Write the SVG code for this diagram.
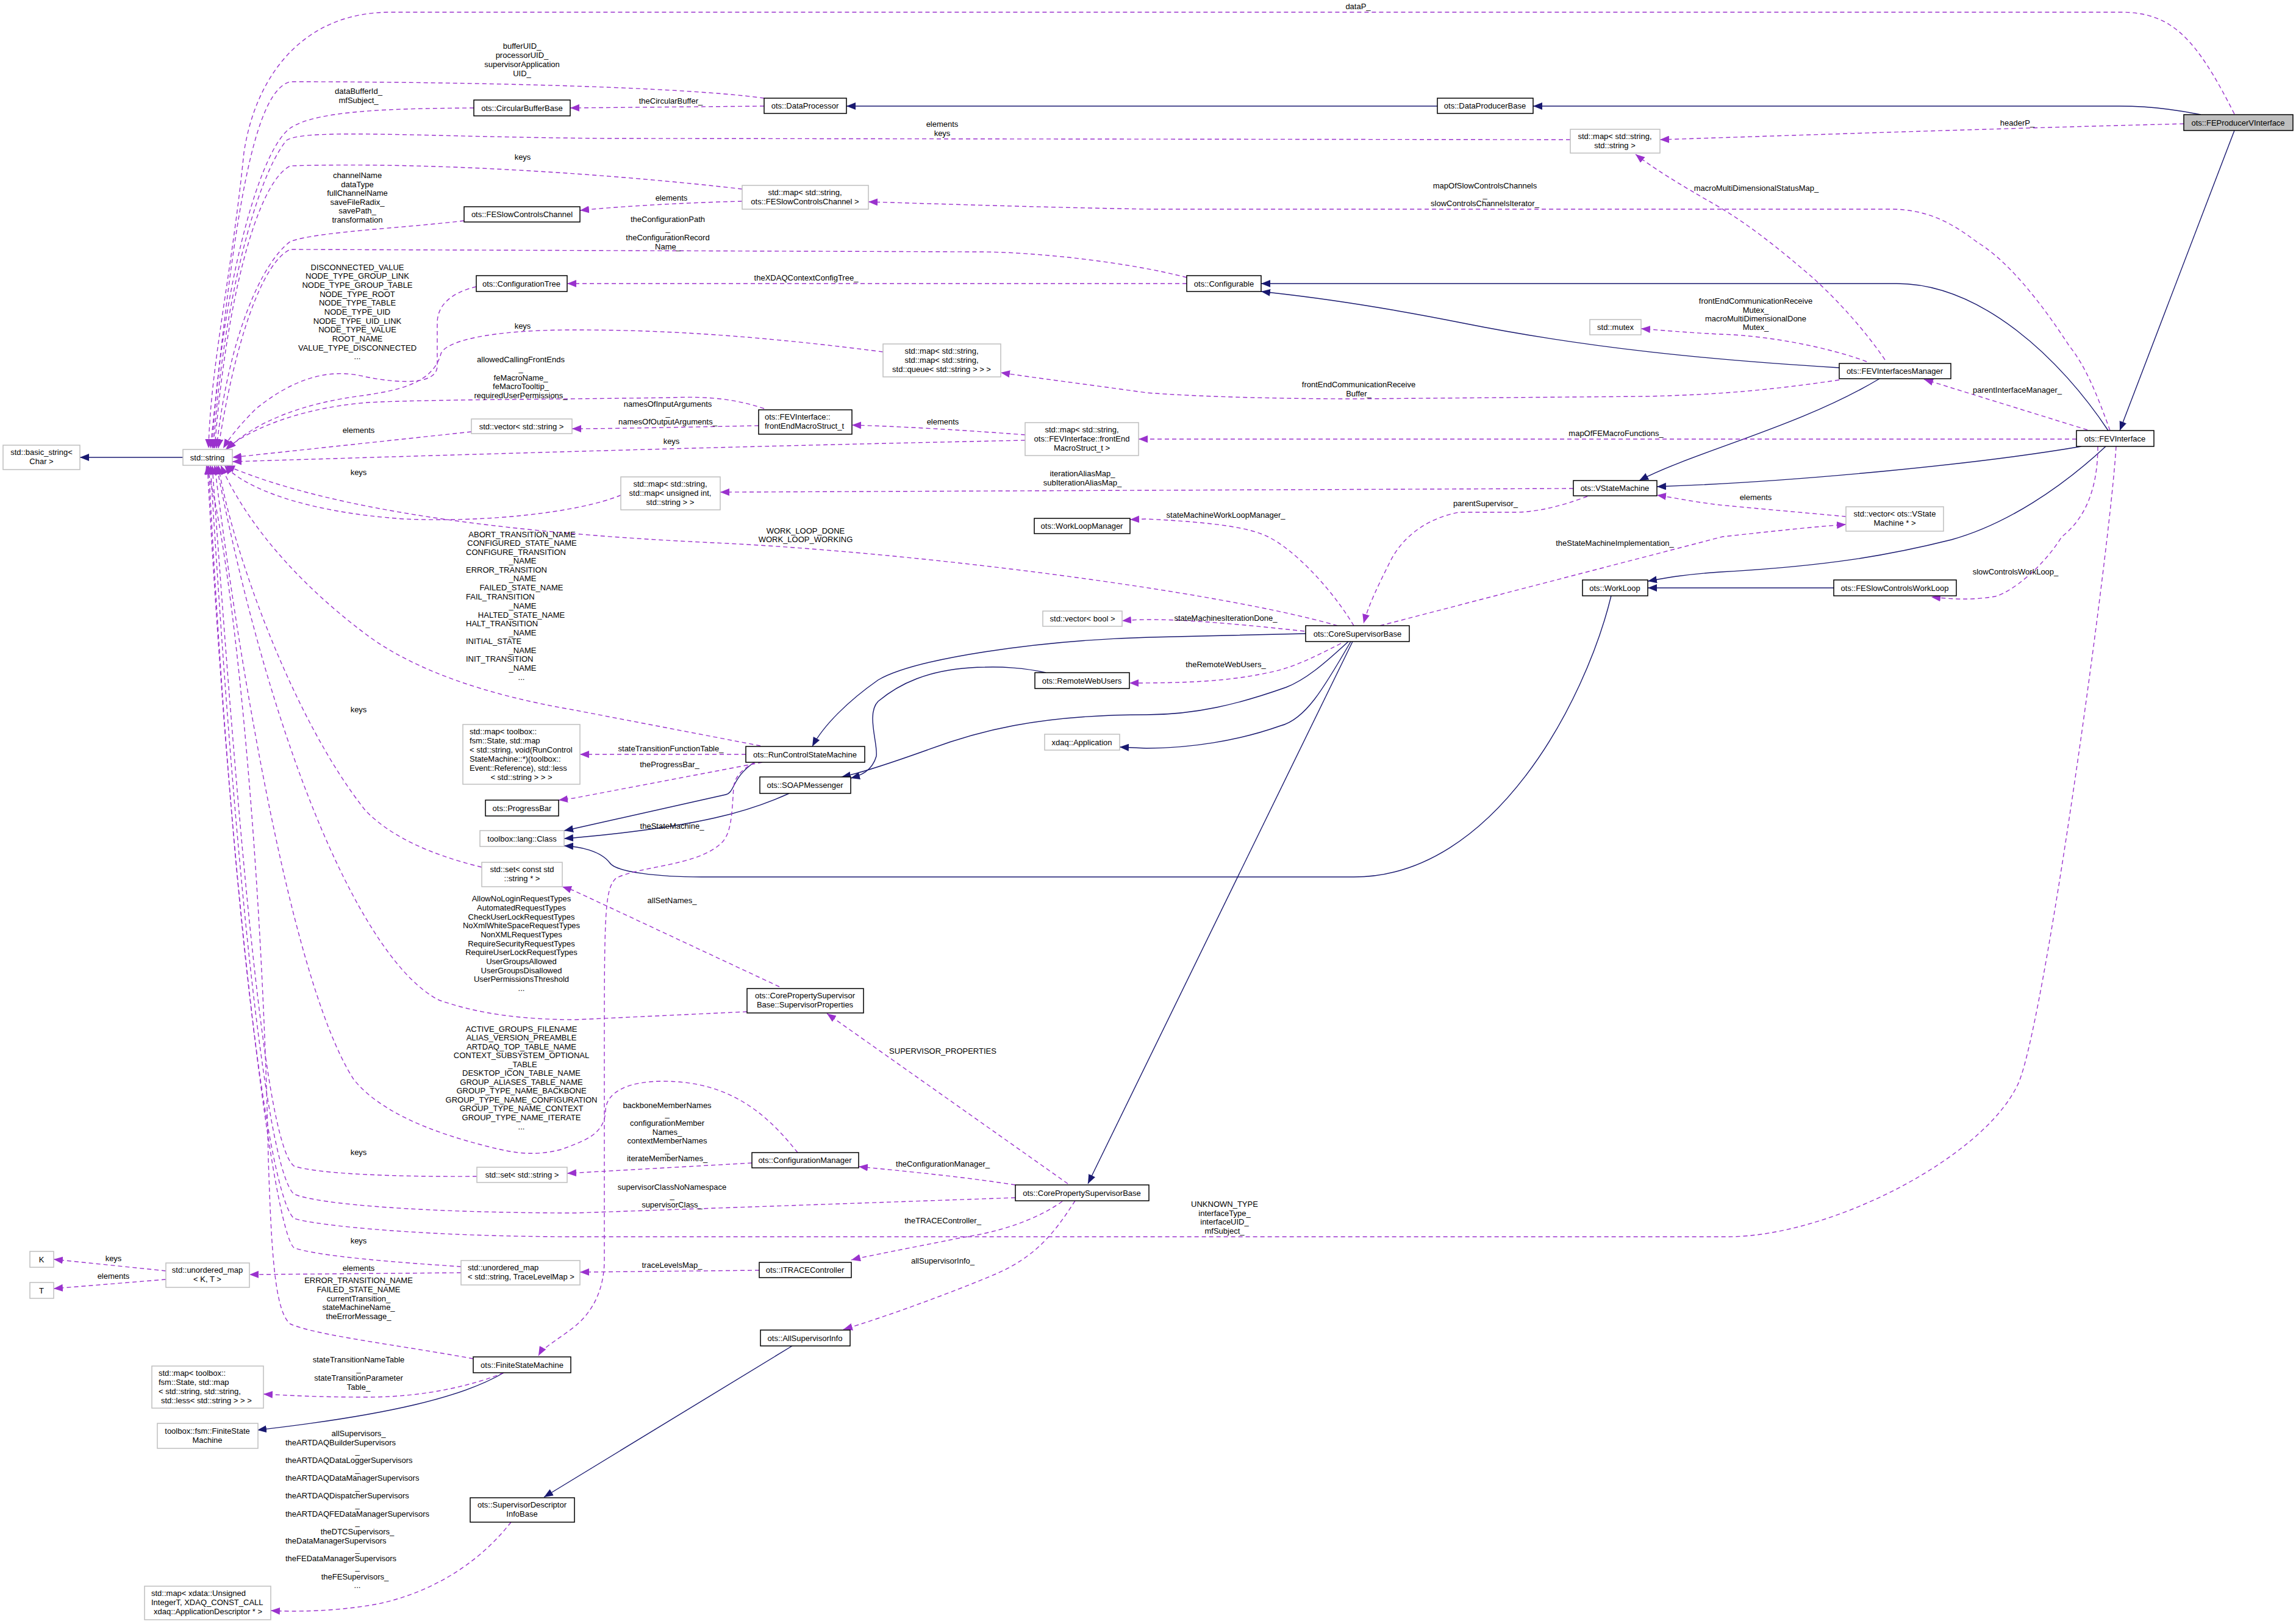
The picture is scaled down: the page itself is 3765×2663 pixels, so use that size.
<svg xmlns="http://www.w3.org/2000/svg" width="3765" height="2663" viewBox="0 0 3765 2663">
<style>
text{font-family:"Liberation Sans",Arial,sans-serif;font-size:13px;fill:#000}
.m{text-anchor:middle}
.b{fill:#fff;stroke:#000;stroke-width:1.5}
.g{fill:#fff;stroke:#bfbfbf;stroke-width:1.5}
.d{fill:none;stroke:#9a32cd;stroke-width:1.4;stroke-dasharray:7,5;marker-end:url(#ap)}
.s{fill:none;stroke:#191970;stroke-width:1.4;marker-end:url(#an)}
</style>
<defs>
<marker id="ap" markerUnits="userSpaceOnUse" markerWidth="16" markerHeight="12" refX="15" refY="6" orient="auto"><path d="M0,0 L15,6 L0,12 z" fill="#9a32cd"/></marker>
<marker id="an" markerUnits="userSpaceOnUse" markerWidth="16" markerHeight="12" refX="15" refY="6" orient="auto"><path d="M0,0 L15,6 L0,12 z" fill="#191970"/></marker>
</defs>
<rect width="3765" height="2663" fill="#fff"/>
<g id="edges">
<path class="s" d="M300,750 L131,750"/>
<path class="s" d="M2357,174 L1388,174"/>
<path class="s" d="M3609,188 C3560,178 3520,174 3475,174 L2514,174"/>
<path class="s" d="M3664,214 L3476,706"/>
<path class="s" d="M3457,706 C3380,590 3250,465 3110,465 L2068,465"/>
<path class="s" d="M3016,603 C2800,590 2600,570 2400,530 C2200,490 2100,482 2068,478"/>
<path class="s" d="M3082,621 C2950,700 2780,740 2688,788"/>
<path class="s" d="M3413,732 C3250,760 2950,790 2717,798"/>
<path class="s" d="M3453,732 C3380,800 3290,860 3200,885 C3100,910 3000,928 2820,938 C2760,942 2730,948 2702,953"/>
<path class="s" d="M3007,964 L2702,964"/>
<path class="s" d="M2642,977 C2600,1150 2450,1438 2220,1438 L1150,1438 C1080,1438 1010,1430 1000,1415 C985,1395 950,1388 925,1387"/>
<path class="s" d="M1237,1250 C1200,1275 1205,1300 1190,1303 L940,1359 L925,1362"/>
<path class="s" d="M1294,1301 C1230,1330 1150,1355 940,1374 L925,1375"/>
<path class="s" d="M2141,1039 L1885,1045 C1700,1050 1500,1080 1440,1115 C1390,1150 1350,1190 1332,1224"/>
<path class="s" d="M1715,1103 C1680,1095 1640,1093 1615,1094 C1520,1095 1470,1125 1440,1150 C1420,1170 1440,1220 1437,1240 C1430,1265 1410,1272 1395,1276"/>
<path class="s" d="M2211,1052 C2170,1090 2140,1115 2109,1127 C2030,1155 1960,1172 1880,1172 C1700,1172 1600,1200 1520,1230 C1450,1255 1400,1270 1380,1274"/>
<path class="s" d="M2215,1052 C2170,1130 2140,1180 2100,1190 C2030,1215 1950,1227 1880,1227 L1836,1225"/>
<path class="s" d="M2218,1052 L1784,1941"/>
<path class="s" d="M826,2251 C760,2290 640,2320 422,2345"/>
<path class="s" d="M1299,2207 L892,2455"/>
<path class="d" d="M3664,187 C3600,60 3560,20 3477,20 L640,20 C500,20 420,120 400,250 C380,450 345,600 342,735"/>
<path class="d" d="M1253,161 C1100,140 700,134 476,134 C410,150 380,400 345,735"/>
<path class="d" d="M777,177 C650,178 520,180 476,210 C420,250 360,500 348,735"/>
<path class="d" d="M2575,229 L1000,227 C700,225 500,210 470,230 C420,290 365,500 350,735"/>
<path class="d" d="M1217,310 C1000,285 700,265 476,272 C420,300 370,500 352,735"/>
<path class="d" d="M761,362 C650,375 520,380 476,396 C430,430 375,550 355,735"/>
<path class="d" d="M1946,455 C1850,430 1700,413 1603,413 L476,409 C430,430 385,560 358,735"/>
<path class="d" d="M781,470 C740,480 717,500 717,530 L717,600 C717,630 660,630 600,618 C530,600 470,630 420,670 C390,700 375,720 366,735"/>
<path class="d" d="M1448,577 C1200,545 1050,541 940,541 C800,541 730,560 723,580 C710,630 650,640 600,648 C500,660 420,690 372,737"/>
<path class="d" d="M1253,670 C1200,652 1150,650 1100,652 C900,655 700,655 603,660 C480,670 400,710 370,737"/>
<path class="d" d="M773,708 L381,750"/>
<path class="d" d="M1681,722 C1300,730 1000,738 381,757"/>
<path class="d" d="M1018,812 C950,840 800,857 663,851 C500,840 400,800 368,763"/>
<path class="d" d="M2193,1026 C2000,970 1500,905 1170,890 C850,875 550,840 370,763"/>
<path class="d" d="M1247,1223 L940,1164 C800,1140 680,1100 600,1040 C480,950 400,850 362,763"/>
<path class="d" d="M790,1422 C700,1400 640,1370 600,1330 C480,1180 380,900 358,763"/>
<path class="d" d="M1225,1659 L945,1672 C850,1672 780,1661 720,1640 C600,1580 450,1250 355,763"/>
<path class="d" d="M1308,1890 C1260,1830 1200,1773 1088,1773 C1030,1773 995,1790 993,1820 C992,1860 960,1870 920,1885 C880,1895 850,1893 800,1880 C700,1855 620,1820 580,1770 C470,1600 380,1000 352,763"/>
<path class="d" d="M782,1929 C650,1930 520,1925 482,1912 C440,1880 400,1500 348,763"/>
<path class="d" d="M1665,1964 L945,1989 C700,1989 520,1975 482,1958 C440,1920 390,1500 345,763"/>
<path class="d" d="M3470,732 C3460,900 3350,1700 3308,1780 C3250,1900 3000,2028 2833,2028 L945,2028 C700,2028 520,2010 482,1998 C440,1960 380,1500 342,763"/>
<path class="d" d="M756,2077 C650,2070 520,2060 482,2046 C450,2020 380,1500 340,763"/>
<path class="d" d="M776,2228 C650,2205 520,2190 476,2171 C450,2150 445,2050 440,1900 C430,1400 380,900 338,763"/>
<path class="d" d="M1253,174 L935,177"/>
<path class="d" d="M1217,330 C1100,333 1000,340 951,345"/>
<path class="d" d="M1946,465 L930,465"/>
<path class="d" d="M1244,698 C1150,700 1000,703 938,703"/>
<path class="d" d="M1681,713 C1600,707 1500,700 1397,697"/>
<path class="d" d="M3405,720 L1867,720"/>
<path class="d" d="M2580,801 L1181,807"/>
<path class="d" d="M1223,1237 L951,1237"/>
<path class="d" d="M1250,1250 L940,1309 L916,1312"/>
<path class="d" d="M1278,1618 L940,1460 L922,1454"/>
<path class="d" d="M1751,1941 L1356,1662"/>
<path class="d" d="M1233,1907 L930,1924"/>
<path class="d" d="M1665,1943 C1580,1930 1500,1922 1408,1913"/>
<path class="d" d="M756,2087 L409,2090"/>
<path class="d" d="M272,2084 L88,2065"/>
<path class="d" d="M272,2098 L88,2113"/>
<path class="d" d="M1245,2083 L951,2086"/>
<path class="d" d="M1742,1970 C1700,2000 1640,2020 1579,2029 C1500,2045 1420,2060 1396,2066"/>
<path class="d" d="M1763,1969 C1730,2020 1700,2060 1633,2089 C1560,2120 1450,2160 1383,2180"/>
<path class="d" d="M826,2251 C780,2270 700,2291 603,2291 C520,2291 470,2288 432,2286"/>
<path class="d" d="M1238,1250 C1215,1262 1205,1275 1203,1290 C1200,1340 1199,1370 1180,1385 C1140,1420 1050,1420 1010,1440 C990,1460 991,1500 991,1800 L991,2066 C991,2110 975,2150 940,2177 C910,2200 890,2210 883,2223"/>
<path class="d" d="M838,2496 C780,2570 700,2613 620,2630 C550,2643 480,2643 444,2641"/>
<path class="d" d="M2603,814 C2560,830 2520,840 2483,840 L2392,840 C2340,850 2300,880 2280,920 C2260,960 2245,990 2236,1022"/>
<path class="d" d="M2220,1026 C2180,960 2120,900 2079,880 C2050,866 2000,857 1880,851 L1853,852"/>
<path class="d" d="M2139,1035 C2000,1020 1900,1012 1840,1018"/>
<path class="d" d="M2199,1055 C2150,1080 2120,1095 2080,1103 C2010,1118 1940,1120 1852,1120"/>
<path class="d" d="M2263,1026 L2825,880 C2900,872 2960,865 3027,860"/>
<path class="d" d="M3027,847 C2950,840 2850,831 2820,828 C2770,822 2740,815 2717,812"/>
<path class="d" d="M3423,705 L3155,622"/>
<path class="d" d="M3016,623 C2900,640 2820,647 2700,650 L2224,654 C2050,654 1930,648 1880,644 C1780,630 1700,620 1641,611"/>
<path class="d" d="M3061,593 C3000,570 2900,550 2820,548 C2760,545 2720,541 2691,539"/>
<path class="d" d="M3091,590 C3050,530 3000,480 2971,454 C2920,410 2870,370 2820,340 C2750,300 2710,275 2682,253"/>
<path class="d" d="M3581,203 C3300,210 3000,220 2722,229"/>
<path class="d" d="M3460,706 C3440,650 3420,600 3393,567 C3330,470 3280,420 3242,397 C3200,365 3160,343 3100,343 L1885,343 C1700,340 1500,333 1424,331"/>
<path class="d" d="M3440,732 C3440,800 3420,850 3381,880 C3350,930 3300,970 3272,978 C3230,985 3200,982 3167,979"/>
</g>
<g id="labels">
<text x="2227" y="15" class="m">dataP_</text>
<text class="m"><tspan x="856" y="80">bufferUID_</tspan><tspan x="856" y="95">processorUID_</tspan><tspan x="856" y="110">supervisorApplication</tspan><tspan x="856" y="125">UID_</tspan></text>
<text class="m"><tspan x="588" y="154">dataBufferId_</tspan><tspan x="588" y="169">mfSubject_</tspan></text>
<text x="1100" y="170" class="m">theCircularBuffer_</text>
<text class="m"><tspan x="1545" y="208">elements</tspan><tspan x="1545" y="223">keys</tspan></text>
<text x="857" y="262" class="m">keys</text>
<text x="1101" y="329" class="m">elements</text>
<text class="m"><tspan x="586" y="292">channelName</tspan><tspan x="586" y="307">dataType</tspan><tspan x="586" y="321">fullChannelName</tspan><tspan x="586" y="336">saveFileRadix_</tspan><tspan x="586" y="350">savePath_</tspan><tspan x="586" y="365">transformation</tspan></text>
<text class="m"><tspan x="1095" y="364">theConfigurationPath</tspan><tspan x="1095" y="379">_</tspan><tspan x="1095" y="394">theConfigurationRecord</tspan><tspan x="1095" y="409">Name_</tspan></text>
<text x="1322" y="460" class="m">theXDAQContextConfigTree_</text>
<text class="m"><tspan x="586" y="443">DISCONNECTED_VALUE</tspan><tspan x="586" y="457">NODE_TYPE_GROUP_LINK</tspan><tspan x="586" y="472">NODE_TYPE_GROUP_TABLE</tspan><tspan x="586" y="487">NODE_TYPE_ROOT</tspan><tspan x="586" y="501">NODE_TYPE_TABLE</tspan><tspan x="586" y="516">NODE_TYPE_UID</tspan><tspan x="586" y="531">NODE_TYPE_UID_LINK</tspan><tspan x="586" y="545">NODE_TYPE_VALUE</tspan><tspan x="586" y="560">ROOT_NAME</tspan><tspan x="586" y="575">VALUE_TYPE_DISCONNECTED</tspan><tspan x="586" y="589">...</tspan></text>
<text x="857" y="539" class="m">keys</text>
<text class="m"><tspan x="854" y="594">allowedCallingFrontEnds</tspan><tspan x="854" y="609">_</tspan><tspan x="854" y="624">feMacroName_</tspan><tspan x="854" y="638">feMacroTooltip_</tspan><tspan x="854" y="653">requiredUserPermissions_</tspan></text>
<text class="m"><tspan x="1095" y="667">namesOfInputArguments</tspan><tspan x="1095" y="682">_</tspan><tspan x="1095" y="696">namesOfOutputArguments_</tspan></text>
<text x="588" y="710" class="m">elements</text>
<text x="1101" y="728" class="m">keys</text>
<text x="1546" y="696" class="m">elements</text>
<text x="2650" y="715" class="m">mapOfFEMacroFunctions_</text>
<text x="588" y="779" class="m">keys</text>
<text class="m"><tspan x="1775" y="781">iterationAliasMap_</tspan><tspan x="1775" y="796">subIterationAliasMap_</tspan></text>
<text class="m"><tspan x="1321" y="875">WORK_LOOP_DONE</tspan><tspan x="1321" y="889">WORK_LOOP_WORKING</tspan></text>
<text><tspan x="856" y="881" class="m">ABORT_TRANSITION_NAME</tspan><tspan x="856" y="895" class="m">CONFIGURED_STATE_NAME</tspan><tspan x="764" y="910">CONFIGURE_TRANSITION</tspan><tspan x="857" y="924" class="m">_NAME</tspan><tspan x="764" y="939">ERROR_TRANSITION</tspan><tspan x="857" y="953" class="m">_NAME</tspan><tspan x="855" y="968" class="m">FAILED_STATE_NAME</tspan><tspan x="764" y="983">FAIL_TRANSITION</tspan><tspan x="857" y="998" class="m">_NAME</tspan><tspan x="855" y="1013" class="m">HALTED_STATE_NAME</tspan><tspan x="764" y="1027">HALT_TRANSITION</tspan><tspan x="857" y="1042" class="m">_NAME</tspan><tspan x="764" y="1056">INITIAL_STATE</tspan><tspan x="857" y="1071" class="m">_NAME</tspan><tspan x="764" y="1085">INIT_TRANSITION</tspan><tspan x="857" y="1100" class="m">_NAME</tspan><tspan x="855" y="1115" class="m">...</tspan></text>
<text x="1100" y="1232" class="m">stateTransitionFunctionTable_</text>
<text x="1098" y="1258" class="m">theProgressBar_</text>
<text x="588" y="1168" class="m">keys</text>
<text x="1102" y="1359" class="m">theStateMachine_</text>
<text x="1102" y="1481" class="m">allSetNames_</text>
<text class="m"><tspan x="855" y="1478">AllowNoLoginRequestTypes</tspan><tspan x="855" y="1493">AutomatedRequestTypes</tspan><tspan x="855" y="1508">CheckUserLockRequestTypes</tspan><tspan x="855" y="1522">NoXmlWhiteSpaceRequestTypes</tspan><tspan x="855" y="1537">NonXMLRequestTypes</tspan><tspan x="855" y="1552">RequireSecurityRequestTypes</tspan><tspan x="855" y="1566">RequireUserLockRequestTypes</tspan><tspan x="855" y="1581">UserGroupsAllowed</tspan><tspan x="855" y="1596">UserGroupsDisallowed</tspan><tspan x="855" y="1610">UserPermissionsThreshold</tspan><tspan x="855" y="1625">...</tspan></text>
<text x="1546" y="1728" class="m">SUPERVISOR_PROPERTIES</text>
<text class="m"><tspan x="855" y="1692">ACTIVE_GROUPS_FILENAME</tspan><tspan x="855" y="1706">ALIAS_VERSION_PREAMBLE</tspan><tspan x="855" y="1721">ARTDAQ_TOP_TABLE_NAME</tspan><tspan x="855" y="1735">CONTEXT_SUBSYSTEM_OPTIONAL</tspan><tspan x="857" y="1750">_TABLE</tspan><tspan x="855" y="1764">DESKTOP_ICON_TABLE_NAME</tspan><tspan x="855" y="1779">GROUP_ALIASES_TABLE_NAME</tspan><tspan x="855" y="1793">GROUP_TYPE_NAME_BACKBONE</tspan><tspan x="855" y="1808">GROUP_TYPE_NAME_CONFIGURATION</tspan><tspan x="855" y="1822">GROUP_TYPE_NAME_CONTEXT</tspan><tspan x="855" y="1837">GROUP_TYPE_NAME_ITERATE</tspan><tspan x="855" y="1852">...</tspan></text>
<text x="588" y="1894" class="m">keys</text>
<text class="m"><tspan x="1094" y="1817">backboneMemberNames</tspan><tspan x="1094" y="1831">_</tspan><tspan x="1094" y="1846">configurationMember</tspan><tspan x="1094" y="1861">Names_</tspan><tspan x="1094" y="1875">contextMemberNames</tspan><tspan x="1094" y="1890">_</tspan><tspan x="1094" y="1904">iterateMemberNames_</tspan></text>
<text x="1546" y="1913" class="m">theConfigurationManager_</text>
<text class="m"><tspan x="1102" y="1951">supervisorClassNoNamespace</tspan><tspan x="1102" y="1965">_</tspan><tspan x="1102" y="1980">supervisorClass_</tspan></text>
<text class="m"><tspan x="2008" y="1979">UNKNOWN_TYPE</tspan><tspan x="2008" y="1994">interfaceType_</tspan><tspan x="2008" y="2008">interfaceUID_</tspan><tspan x="2008" y="2023">mfSubject_</tspan></text>
<text x="1546" y="2006" class="m">theTRACEController_</text>
<text x="588" y="2039" class="m">keys</text>
<text x="588" y="2084" class="m">elements</text>
<text x="186" y="2068" class="m">keys</text>
<text x="186" y="2097" class="m">elements</text>
<text x="1102" y="2079" class="m">traceLevelsMap_</text>
<text x="1546" y="2072" class="m">allSupervisorInfo_</text>
<text class="m"><tspan x="588" y="2104">ERROR_TRANSITION_NAME</tspan><tspan x="588" y="2119">FAILED_STATE_NAME</tspan><tspan x="588" y="2134">currentTransition_</tspan><tspan x="588" y="2148">stateMachineName_</tspan><tspan x="588" y="2163">theErrorMessage_</tspan></text>
<text class="m"><tspan x="588" y="2234">stateTransitionNameTable</tspan><tspan x="588" y="2249">_</tspan><tspan x="588" y="2264">stateTransitionParameter</tspan><tspan x="588" y="2279">Table_</tspan></text>
<text><tspan x="588" y="2355" class="m">allSupervisors_</tspan><tspan x="468" y="2370">theARTDAQBuilderSupervisors</tspan><tspan x="586" y="2384" class="m">_</tspan><tspan x="468" y="2399">theARTDAQDataLoggerSupervisors</tspan><tspan x="586" y="2414" class="m">_</tspan><tspan x="468" y="2428">theARTDAQDataManagerSupervisors</tspan><tspan x="586" y="2443" class="m">_</tspan><tspan x="468" y="2457">theARTDAQDispatcherSupervisors</tspan><tspan x="586" y="2472" class="m">_</tspan><tspan x="468" y="2487">theARTDAQFEDataManagerSupervisors</tspan><tspan x="586" y="2501" class="m">_</tspan><tspan x="586" y="2516" class="m">theDTCSupervisors_</tspan><tspan x="468" y="2531">theDataManagerSupervisors</tspan><tspan x="586" y="2545" class="m">_</tspan><tspan x="468" y="2560">theFEDataManagerSupervisors</tspan><tspan x="586" y="2574" class="m">_</tspan><tspan x="582" y="2590" class="m">theFESupervisors_</tspan><tspan x="586" y="2604" class="m">...</tspan></text>
<text x="2436" y="830" class="m">parentSupervisor_</text>
<text x="2010" y="849" class="m">stateMachineWorkLoopManager_</text>
<text x="2010" y="1018" class="m">stateMachinesIterationDone_</text>
<text x="2010" y="1094" class="m">theRemoteWebUsers_</text>
<text x="2648" y="895" class="m">theStateMachineImplementation_</text>
<text x="2879" y="820" class="m">elements</text>
<text x="3308" y="644" class="m">parentInterfaceManager_</text>
<text class="m"><tspan x="2228" y="635">frontEndCommunicationReceive</tspan><tspan x="2228" y="650">Buffer_</tspan></text>
<text class="m"><tspan x="2879" y="498">frontEndCommunicationReceive</tspan><tspan x="2879" y="513">Mutex_</tspan><tspan x="2879" y="527">macroMultiDimensionalDone</tspan><tspan x="2879" y="541">Mutex_</tspan></text>
<text x="2880" y="313" class="m">macroMultiDimensionalStatusMap_</text>
<text x="3308" y="206" class="m">headerP_</text>
<text class="m"><tspan x="2435" y="309">mapOfSlowControlsChannels</tspan><tspan x="2435" y="324">_</tspan><tspan x="2435" y="338">slowControlsChannelsIterator_</tspan></text>
<text x="3305" y="942" class="m">slowControlsWorkLoop_</text>
</g>
<g id="FEProducerVInterface"><rect x="3581" y="188" width="179" height="26" fill="#bfbfbf" stroke="#000" stroke-width="1.5"/><text x="3670" y="205.5" class="m">ots::FEProducerVInterface</text></g>
<g id="DataProducerBase"><rect class="b" x="2357" y="161" width="157" height="25"/><text x="2435" y="178" class="m">ots::DataProducerBase</text></g>
<g id="DataProcessor"><rect class="b" x="1253" y="161" width="135" height="25"/><text x="1320" y="178" class="m">ots::DataProcessor</text></g>
<g id="CircularBufferBase"><rect class="b" x="777" y="164" width="158" height="26"/><text x="856" y="181.5" class="m">ots::CircularBufferBase</text></g>
<g id="map_ss"><rect class="g" x="2575" y="212" width="147" height="39"/><text class="m"><tspan x="2648" y="228">std::map&lt; std::string,</tspan><tspan x="2648" y="243">std::string &gt;</tspan></text></g>
<g id="map_fscc"><rect class="g" x="1217" y="304" width="207" height="39"/><text class="m"><tspan x="1320" y="320">std::map&lt; std::string,</tspan><tspan x="1320" y="335">ots::FESlowControlsChannel &gt;</tspan></text></g>
<g id="FESlowControlsChannel"><rect class="b" x="761" y="339" width="190" height="25"/><text x="856" y="356" class="m">ots::FESlowControlsChannel</text></g>
<g id="Configurable"><rect class="b" x="1946" y="452" width="122" height="26"/><text x="2007" y="469.5" class="m">ots::Configurable</text></g>
<g id="ConfigurationTree"><rect class="b" x="781" y="452" width="149" height="26"/><text x="855" y="469.5" class="m">ots::ConfigurationTree</text></g>
<g id="mutex"><rect class="g" x="2607" y="524" width="84" height="25"/><text x="2649" y="541" class="m">std::mutex</text></g>
<g id="map_mmq"><rect class="g" x="1448" y="564" width="193" height="54"/><text class="m"><tspan x="1544" y="580">std::map&lt; std::string,</tspan><tspan x="1544" y="595">std::map&lt; std::string,</tspan><tspan x="1544" y="610">std::queue&lt; std::string &gt; &gt; &gt;</tspan></text></g>
<g id="FEVInterfacesManager"><rect class="b" x="3016" y="596" width="183" height="25"/><text x="3107" y="613" class="m">ots::FEVInterfacesManager</text></g>
<g id="frontEndMacroStruct_t"><rect class="b" x="1244" y="672" width="153" height="40"/><text><tspan x="1254" y="688">ots::FEVInterface::</tspan><tspan x="1254" y="703">frontEndMacroStruct_t</tspan></text></g>
<g id="vector_string"><rect class="g" x="773" y="687" width="165" height="24"/><text x="855" y="703.5" class="m">std::vector&lt; std::string &gt;</text></g>
<g id="map_fe"><rect class="g" x="1681" y="693" width="186" height="54"/><text class="m"><tspan x="1774" y="709">std::map&lt; std::string,</tspan><tspan x="1774" y="724">ots::FEVInterface::frontEnd</tspan><tspan x="1774" y="739">MacroStruct_t &gt;</tspan></text></g>
<g id="FEVInterface"><rect class="b" x="3405" y="706" width="127" height="26"/><text x="3468" y="723.5" class="m">ots::FEVInterface</text></g>
<g id="basic_string"><rect class="g" x="5" y="730" width="126" height="40"/><text class="m"><tspan x="68" y="746">std::basic_string&lt;</tspan><tspan x="68" y="761">Char &gt;</tspan></text></g>
<g id="string"><rect class="g" x="300" y="737" width="81" height="26"/><text x="340" y="754.5" class="m">std::string</text></g>
<g id="map_ui"><rect class="g" x="1018" y="782" width="163" height="54"/><text class="m"><tspan x="1099" y="798">std::map&lt; std::string,</tspan><tspan x="1099" y="813">std::map&lt; unsigned int,</tspan><tspan x="1099" y="828">std::string &gt; &gt;</tspan></text></g>
<g id="VStateMachine"><rect class="b" x="2580" y="788" width="137" height="25"/><text x="2648" y="805" class="m">ots::VStateMachine</text></g>
<g id="vec_vsm"><rect class="g" x="3027" y="831" width="160" height="40"/><text class="m"><tspan x="3107" y="847">std::vector&lt; ots::VState</tspan><tspan x="3107" y="862">Machine * &gt;</tspan></text></g>
<g id="WorkLoopManager"><rect class="b" x="1696" y="850" width="157" height="25"/><text x="1774" y="867" class="m">ots::WorkLoopManager</text></g>
<g id="WorkLoop"><rect class="b" x="2595" y="951" width="107" height="26"/><text x="2648" y="968.5" class="m">ots::WorkLoop</text></g>
<g id="FESlowControlsWorkLoop"><rect class="b" x="3007" y="951" width="201" height="26"/><text x="3107" y="968.5" class="m">ots::FESlowControlsWorkLoop</text></g>
<g id="vector_bool"><rect class="g" x="1710" y="1002" width="130" height="25"/><text x="1775" y="1019" class="m">std::vector&lt; bool &gt;</text></g>
<g id="CoreSupervisorBase"><rect class="b" x="2141" y="1026" width="170" height="26"/><text x="2226" y="1043.5" class="m">ots::CoreSupervisorBase</text></g>
<g id="RemoteWebUsers"><rect class="b" x="1697" y="1103" width="155" height="26"/><text x="1774" y="1120.5" class="m">ots::RemoteWebUsers</text></g>
<g id="map_rcsm"><rect class="g" x="759" y="1188" width="192" height="98"/><text><tspan x="770" y="1204">std::map&lt; toolbox::</tspan><tspan x="770" y="1219">fsm::State, std::map</tspan><tspan x="770" y="1234">&lt; std::string, void(RunControl</tspan><tspan x="770" y="1249">StateMachine::*)(toolbox::</tspan><tspan x="770" y="1264">Event::Reference), std::less</tspan><tspan x="855" y="1279" class="m">&lt; std::string &gt; &gt; &gt;</tspan></text></g>
<g id="xdaq_Application"><rect class="g" x="1713" y="1204" width="123" height="26"/><text x="1774" y="1221.5" class="m">xdaq::Application</text></g>
<g id="RunControlStateMachine"><rect class="b" x="1223" y="1224" width="195" height="26"/><text x="1320" y="1241.5" class="m">ots::RunControlStateMachine</text></g>
<g id="SOAPMessenger"><rect class="b" x="1246" y="1274" width="149" height="27"/><text x="1320" y="1292" class="m">ots::SOAPMessenger</text></g>
<g id="ProgressBar"><rect class="b" x="796" y="1312" width="120" height="26"/><text x="856" y="1329.5" class="m">ots::ProgressBar</text></g>
<g id="lang_Class"><rect class="g" x="787" y="1362" width="138" height="26"/><text x="856" y="1379.5" class="m">toolbox::lang::Class</text></g>
<g id="set_cs"><rect class="g" x="790" y="1414" width="132" height="40"/><text class="m"><tspan x="856" y="1430">std::set&lt; const std</tspan><tspan x="856" y="1445">::string * &gt;</tspan></text></g>
<g id="SupervisorProperties"><rect class="b" x="1225" y="1621" width="191" height="40"/><text class="m"><tspan x="1320" y="1637">ots::CorePropertySupervisor</tspan><tspan x="1320" y="1652">Base::SupervisorProperties</tspan></text></g>
<g id="ConfigurationManager"><rect class="b" x="1233" y="1890" width="175" height="25"/><text x="1320" y="1907" class="m">ots::ConfigurationManager</text></g>
<g id="set_s"><rect class="g" x="782" y="1914" width="148" height="25"/><text x="856" y="1931" class="m">std::set&lt; std::string &gt;</text></g>
<g id="CorePropertySupervisorBase"><rect class="b" x="1665" y="1943" width="219" height="26"/><text x="1774" y="1960.5" class="m">ots::CorePropertySupervisorBase</text></g>
<g id="K"><rect class="g" x="49" y="2052" width="39" height="26"/><text x="68" y="2069.5" class="m">K</text></g>
<g id="T"><rect class="g" x="49" y="2103" width="39" height="26"/><text x="68" y="2120.5" class="m">T</text></g>
<g id="umap"><rect class="g" x="272" y="2071" width="137" height="40"/><text class="m"><tspan x="340" y="2087">std::unordered_map</tspan><tspan x="340" y="2102">&lt; K, T &gt;</tspan></text></g>
<g id="TraceLevelMap"><rect class="g" x="756" y="2067" width="195" height="40"/><text><tspan x="767" y="2083">std::unordered_map</tspan><tspan x="767" y="2098">&lt; std::string, TraceLevelMap &gt;</tspan></text></g>
<g id="ITRACEController"><rect class="b" x="1245" y="2070" width="151" height="25"/><text x="1320" y="2087" class="m">ots::ITRACEController</text></g>
<g id="AllSupervisorInfo"><rect class="b" x="1247" y="2181" width="147" height="26"/><text x="1320" y="2198.5" class="m">ots::AllSupervisorInfo</text></g>
<g id="FiniteStateMachine"><rect class="b" x="776" y="2225" width="160" height="26"/><text x="856" y="2242.5" class="m">ots::FiniteStateMachine</text></g>
<g id="map_fsm"><rect class="g" x="249" y="2240" width="183" height="69"/><text><tspan x="260" y="2256">std::map&lt; toolbox::</tspan><tspan x="260" y="2271">fsm::State, std::map</tspan><tspan x="260" y="2286">&lt; std::string, std::string,</tspan><tspan x="264" y="2301">std::less&lt; std::string &gt; &gt; &gt;</tspan></text></g>
<g id="toolbox_fsm"><rect class="g" x="258" y="2334" width="165" height="41"/><text class="m"><tspan x="340" y="2351">toolbox::fsm::FiniteState</tspan><tspan x="340" y="2366">Machine</tspan></text></g>
<g id="SupervisorDescriptorInfoBase"><rect class="b" x="771" y="2456" width="171" height="40"/><text class="m"><tspan x="856" y="2472">ots::SupervisorDescriptor</tspan><tspan x="856" y="2487">InfoBase</tspan></text></g>
<g id="map_xdata"><rect class="g" x="237" y="2601" width="207" height="55"/><text><tspan x="248" y="2617">std::map&lt; xdata::Unsigned</tspan><tspan x="248" y="2632">IntegerT, XDAQ_CONST_CALL</tspan><tspan x="252" y="2647">xdaq::ApplicationDescriptor * &gt;</tspan></text></g>
</svg>
